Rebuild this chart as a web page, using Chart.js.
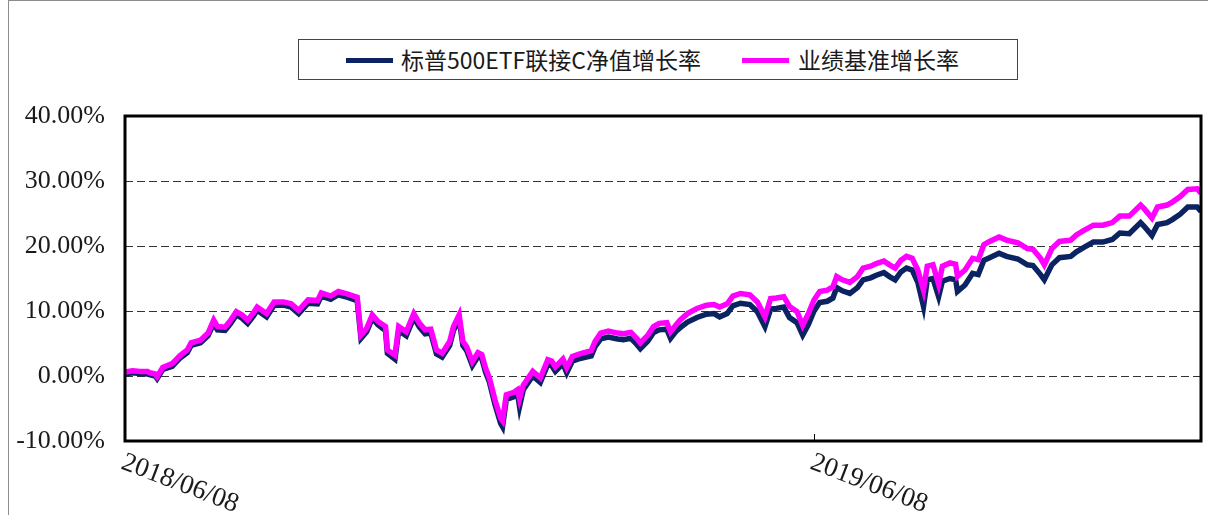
<!DOCTYPE html>
<html>
<head>
<meta charset="utf-8">
<script src="https://cdn.jsdelivr.net/npm/chart.js@4.4.1/dist/chart.umd.min.js"></script>
<style>
html, body { margin: 0; padding: 0; background: #fff; }
#wrap { position: relative; width: 1208px; height: 515px; overflow: hidden; }
#frame { position: absolute; left: 8px; top: 0; width: 1300px; height: 600px;
         border-left: 1px solid #8c8c8c; border-top: 1px solid #8c8c8c; }
#legend { position: absolute; left: 298px; top: 39px; width: 718px; height: 39px;
          border: 1px solid #444; background: #fff;
          font-family: "Noto Sans CJK SC", sans-serif; font-size: 23px; color: #1a1a1a; }
.swatch { position: absolute; top: 18px; width: 47px; height: 5px; }
.lbl { position: absolute; top: 2px; line-height: 34px; white-space: nowrap; }
canvas { position: absolute; left: 0; top: 0; }
</style>
</head>
<body>
<div id="wrap">
  <div id="frame"></div>
  <canvas id="grafico" width="1208" height="515"></canvas>
  <div id="legend">
    <div class="swatch" style="left:47px;background:#0b2461"></div>
    <div class="lbl" style="left:102px">标普500ETF联接C净值增长率</div>
    <div class="swatch" style="left:443px;background:#ff00ff"></div>
    <div class="lbl" style="left:499px">业绩基准增长率</div>
  </div>
</div>
<script>
// dias desde 2018/06/08
var dias = [
    0, 4, 8, 12, 13, 16, 17, 20, 25, 29,
    33, 35, 40, 44, 47, 49, 53, 56, 59, 62,
    65, 68, 70, 75, 79, 84, 88, 92, 97, 102,
    104, 109, 113, 118, 123, 125, 128, 131, 134, 138,
    139, 143, 145, 149, 153, 156, 159, 162, 165, 168,
    172, 174, 177, 179, 181, 184, 187, 189, 191, 193,
    196, 199, 200, 202, 206, 208, 209, 211, 216, 220,
    224, 226, 228, 232, 234, 237, 241, 247, 249, 252,
    256, 261, 264, 268, 271, 273, 277, 280, 283, 287,
    289, 292, 294, 298, 303, 308, 312, 315, 319, 322,
    326, 331, 335, 339, 342, 345, 349, 352, 356, 359,
    362, 365, 368, 372, 375, 377, 380, 384, 388, 391,
    395, 398, 402, 405, 408, 411, 414, 417, 420, 423,
    425, 428, 431, 433, 437, 440, 441, 445, 449, 452,
    455, 458, 463, 467, 473, 478, 481, 485, 487, 491,
    495, 501, 504, 508, 513, 518, 523, 527, 532, 538,
    540, 544, 547, 552, 555, 559, 563, 568, 570
];

// 业绩基准增长率 (%)
var benchmark = [
    0.6, 0.8, 0.7, 0.7, 0.5, 0.3, -0.1, 1.3, 1.9, 3.1,
    4.0, 5.1, 5.5, 6.6, 8.6, 7.6, 7.5, 8.6, 9.9, 9.4,
    8.6, 9.7, 10.6, 9.6, 11.4, 11.4, 11.1, 10.1, 11.7, 11.6,
    12.8, 12.3, 13.0, 12.6, 12.1, 6.3, 7.3, 9.4, 8.4, 7.6,
    4.0, 3.2, 7.6, 6.8, 9.6, 8.1, 7.1, 7.2, 4.0, 3.5,
    5.3, 7.6, 9.4, 5.3, 4.5, 2.2, 3.6, 3.3, 1.2, -0.3,
    -3.7, -6.5, -6.9, -2.9, -2.5, -2.1, -3.5, -1.4, 0.7, -0.3,
    2.5, 2.3, 1.4, 2.6, 1.3, 3.0, 3.4, 3.9, 5.3, 6.6,
    6.9, 6.6, 6.5, 6.7, 5.8, 5.1, 6.3, 7.6, 8.1, 8.2,
    6.8, 7.9, 8.6, 9.6, 10.4, 10.9, 11.0, 10.6, 11.1, 12.3,
    12.7, 12.5, 11.4, 9.1, 11.9, 12.0, 12.2, 10.7, 9.9, 7.8,
    9.6, 11.7, 13.0, 13.2, 13.7, 15.3, 14.8, 14.4, 15.3, 16.6,
    16.9, 17.3, 17.7, 17.1, 16.6, 17.8, 18.4, 18.1, 16.3, 13.2,
    16.9, 17.1, 14.1, 16.9, 17.4, 17.2, 15.3, 16.3, 18.1, 17.9,
    20.2, 20.7, 21.4, 20.9, 20.5, 19.6, 19.5, 18.1, 17.1, 19.6,
    20.7, 20.9, 21.7, 22.4, 23.2, 23.2, 23.6, 24.6, 24.6, 26.3,
    25.7, 24.3, 26.0, 26.3, 26.8, 27.6, 28.7, 28.8, 28.1
];

// 标普500ETF联接C净值增长率 (%)
var fondo = [
    0.3, 0.5, 0.4, 0.3, 0.2, 0.0, -0.4, 1.0, 1.5, 2.7,
    3.6, 4.7, 5.1, 6.2, 8.1, 7.1, 7.0, 8.1, 9.4, 8.9,
    8.1, 9.2, 10.1, 9.1, 10.9, 10.9, 10.6, 9.6, 11.2, 11.1,
    12.3, 11.8, 12.5, 12.1, 11.6, 5.8, 6.8, 8.9, 7.9, 7.0,
    3.5, 2.6, 7.0, 6.2, 9.0, 7.5, 6.5, 6.6, 3.4, 2.9,
    4.7, 7.0, 8.8, 4.7, 3.9, 1.6, 3.0, 2.7, 0.6, -0.9,
    -4.4, -7.3, -7.8, -3.6, -3.2, -2.8, -4.7, -2.1, 0.0, -1.0,
    1.8, 1.6, 0.7, 1.9, 0.5, 2.3, 2.7, 3.1, 4.5, 5.7,
    6.0, 5.7, 5.6, 5.8, 4.9, 4.2, 5.4, 6.7, 7.1, 7.2,
    5.8, 6.9, 7.4, 8.3, 9.0, 9.5, 9.6, 9.1, 9.6, 10.8,
    11.2, 11.0, 9.9, 7.6, 10.3, 10.4, 10.6, 9.0, 8.2, 6.3,
    7.9, 10.0, 11.3, 11.5, 12.0, 13.6, 13.1, 12.7, 13.6, 14.8,
    15.1, 15.5, 15.9, 15.3, 14.8, 16.0, 16.6, 16.3, 14.4, 10.7,
    14.8, 15.0, 12.2, 14.6, 15.0, 14.8, 13.0, 14.0, 15.8, 15.6,
    17.8, 18.2, 18.9, 18.4, 18.0, 17.1, 17.0, 15.6, 14.8, 17.1,
    18.2, 18.4, 19.1, 19.8, 20.6, 20.6, 21.0, 22.0, 21.9, 23.6,
    23.0, 21.6, 23.3, 23.6, 24.1, 24.9, 26.0, 26.0, 25.3
];

var xTickDias = [0, 365];
var xTickEtiquetas = ['2018/06/08', '2019/06/08'];

// marco del área de datos + etiquetas del eje x inclinadas
var marco = {
    id: 'marco',
    afterDraw: function(chart) {
        var ctx = chart.ctx;
        var a = chart.chartArea;
        var x = chart.scales.x;
        ctx.save();
        ctx.strokeStyle = '#000';
        ctx.lineWidth = 3;
        ctx.strokeRect(a.left, a.top, a.right - a.left, a.bottom - a.top);
        ctx.lineWidth = 1;
        ctx.font = '27px "Liberation Serif"';
        ctx.fillStyle = '#1a1a1a';
        xTickDias.forEach(function(d, i) {
            var px = Math.round(x.getPixelForValue(d)) + 0.5;
            ctx.beginPath();
            ctx.moveTo(px, a.bottom);
            ctx.lineTo(px, a.bottom - 7);
            ctx.stroke();
            ctx.save();
            ctx.translate(px + 2, a.bottom + 8);
            ctx.rotate(21 * Math.PI / 180);
            ctx.textAlign = 'left';
            ctx.textBaseline = 'top';
            ctx.fillText(xTickEtiquetas[i], 0, 0);
            ctx.restore();
        });
        ctx.restore();
    }
};

var ctx = document.getElementById('grafico').getContext('2d');
new Chart(ctx, {
    type: 'line',
    data: {
        datasets: [
            {
                label: '标普500ETF联接C净值增长率',
                data: dias.map((d, i) => ({ x: d, y: fondo[i] })),
                borderColor: '#0b2461',
                borderWidth: 5.5,
                pointRadius: 0,
                fill: false,
                order: 2
            },
            {
                label: '业绩基准增长率',
                data: dias.map((d, i) => ({ x: d, y: benchmark[i] })),
                borderColor: '#ff00ff',
                borderWidth: 5.5,
                pointRadius: 0,
                fill: false,
                order: 1
            }
        ]
    },
    options: {
        responsive: false,
        animation: false,
        layout: { padding: { left: 0, right: 7, top: 116, bottom: 74 } },
        plugins: { legend: { display: false }, tooltip: { enabled: false } },
        scales: {
            x: {
                type: 'linear',
                min: 0,
                max: 570,
                ticks: { display: false },
                grid: { display: false },
                border: { display: false },
                afterFit: function(scale) { scale.height = 0; }
            },
            y: {
                min: -10,
                max: 40,
                ticks: {
                    stepSize: 10,
                    padding: 20,
                    color: '#1a1a1a',
                    font: { family: 'Liberation Serif', size: 26 },
                    callback: function(v) { return v.toFixed(2) + '%'; }
                },
                grid: { color: '#333', lineWidth: 1, drawTicks: false },
                border: { display: false, dash: [8, 4] },
                afterFit: function(scale) { scale.width = 125; }
            }
        }
    },
    plugins: [marco]
});
</script>
</body>
</html>
